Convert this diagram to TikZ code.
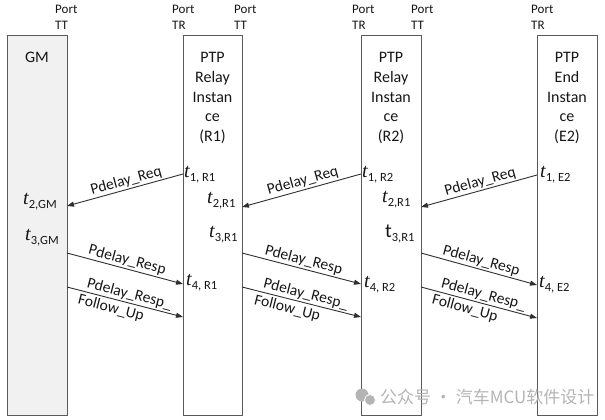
\documentclass[tikz,border=0pt]{standalone}
\usepackage{fontspec}
\setmainfont{Carlito}
\newfontfamily\tfont{Liberation Serif}
\newfontfamily\cjkfont{Noto Sans CJK SC}
\usetikzlibrary{arrows.meta}
\definecolor{boxline}{HTML}{5A5A5A}
\definecolor{gmfill}{HTML}{F1F1F1}
\definecolor{arrline}{HTML}{2E2E2E}
\definecolor{txt}{HTML}{161616}
\definecolor{wmark}{HTML}{B4B4B4}
\newcommand{\tlab}[1]{{\fontsize{20}{20}\selectfont\tfont\itshape t}\raisebox{-4.5pt}{\fontsize{12.5}{12.5}\selectfont #1}}
\newcommand{\tlabup}[1]{{\fontsize{20}{20}\selectfont t}\raisebox{-4.5pt}{\fontsize{12.5}{12.5}\selectfont #1}}
\begin{document}
\begin{tikzpicture}[x=1pt,y=-1pt,
  entity/.style={draw=boxline, line width=1pt, minimum height=379pt, inner sep=0pt, outer sep=0pt},
  boxtext/.style={anchor=north, align=center, inner sep=0pt, text=txt, font=\fontsize{16}{19.8}\selectfont},
  port/.style={anchor=north west, align=left, inner sep=0pt, text=txt, font=\fontsize{13}{16}\selectfont},
  tstamp/.style={anchor=base west, inner sep=0pt, text=txt},
  msg/.style={draw=arrline, line width=0.9pt, -{Triangle[length=7pt,width=5pt]}},
  mlabel/.style={sloped, inner sep=1.5pt, text=txt, font=\fontsize{15.5}{16}\selectfont}
]
\useasboundingbox (0,0) rectangle (605,420);

% entities
\node[entity, fill=gmfill, minimum width=60pt] (GM) at (37,225.5) {};
\node[entity, minimum width=59pt] (R1) at (212.5,225.5) {};
\node[entity, minimum width=60pt] (R2) at (391,225.5) {};
\node[entity, minimum width=60pt] (E2) at (567,225.5) {};

\node[boxtext] (GMt) at (37,52) {GM};
\node[boxtext] (R1t) at (212.5,52) {PTP\\Relay\\Instan\\ce\\(R1)};
\node[boxtext] (R2t) at (391,52) {PTP\\Relay\\Instan\\ce\\(R2)};
\node[boxtext] (E2t) at (567,52) {PTP\\End\\Instan\\ce\\(E2)};

% ports
\node[port] (p1) at (55,4.5) {Port\\TT};
\node[port] (p2) at (172,4.5) {Port\\TR};
\node[port] (p3) at (234,4.5) {Port\\TT};
\node[port] (p4) at (352,4.5) {Port\\TR};
\node[port] (p5) at (411,4.5) {Port\\TT};
\node[port] (p6) at (531,4.5) {Port\\TR};

% timestamps
\node[tstamp] (t1r1) at (184,177) {\tlab{1, R1}};
\node[tstamp] (t2gm) at (23,204) {\tlab{2,GM}};
\node[tstamp] (t3gm) at (25,240) {\tlab{3,GM}};
\node[tstamp] (t4r1) at (186,285) {\tlab{4, R1}};
\node[tstamp] (t2r1a) at (207,203) {\tlab{2,R1}};
\node[tstamp] (t3r1a) at (209,237) {\tlab{3,R1}};
\node[tstamp] (t1r2) at (362,177) {\tlab{1, R2}};
\node[tstamp] (t2r1b) at (382,202) {\tlab{2,R1}};
\node[tstamp] (t3r1b) at (385,237) {\tlabup{3,R1}};
\node[tstamp] (t4r2) at (364,287) {\tlab{4, R2}};
\node[tstamp] (t1e2) at (540,177) {\tlab{1, E2}};
\node[tstamp] (t4e2) at (539,287) {\tlab{4, E2}};

% message end points on the box edges
\coordinate (q1s) at (183,174); \coordinate (q1e) at (67,206);
\coordinate (q2s) at (361,174); \coordinate (q2e) at (242,207);
\coordinate (q3s) at (537,175); \coordinate (q3e) at (421,207);
\coordinate (r1s) at (67,253);  \coordinate (r1e) at (183,284);
\coordinate (f1s) at (67,287);  \coordinate (f1e) at (183,317);
\coordinate (r2s) at (242,253); \coordinate (r2e) at (361,284);
\coordinate (f2s) at (242,287); \coordinate (f2e) at (361,317);
\coordinate (r3s) at (421,253); \coordinate (r3e) at (537,285);
\coordinate (f3s) at (421,287); \coordinate (f3e) at (537,318);

\draw[msg] (q1s) -- node[mlabel, above, pos=0.47] {Pdelay\_Req} (q1e);
\draw[msg] (q2s) -- node[mlabel, above, pos=0.47] {Pdelay\_Req} (q2e);
\draw[msg] (q3s) -- node[mlabel, above, pos=0.47] {Pdelay\_Req} (q3e);

\draw[msg] (r1s) -- node[mlabel, above, pos=0.5] {Pdelay\_Resp} (r1e);
\draw[msg] (r2s) -- node[mlabel, above, pos=0.5] {Pdelay\_Resp} (r2e);
\draw[msg] (r3s) -- node[mlabel, above, pos=0.5] {Pdelay\_Resp} (r3e);

\draw[msg] (f1s) -- node[mlabel, above, pos=0.52] {Pdelay\_Resp\_} node[mlabel, below, pos=0.4, inner sep=2.5pt] {Follow\_Up} (f1e);
\draw[msg] (f2s) -- node[mlabel, above, pos=0.52] {Pdelay\_Resp\_} node[mlabel, below, pos=0.4, inner sep=2.5pt] {Follow\_Up} (f2e);
\draw[msg] (f3s) -- node[mlabel, above, pos=0.52] {Pdelay\_Resp\_} node[mlabel, below, pos=0.4, inner sep=2.5pt] {Follow\_Up} (f3e);

% watermark
\fill[wmark] (362,395) circle (6.5pt);
\fill[wmark] (370,400) circle (5.5pt);
\draw[white, line width=0.8pt] (370,400) circle (5.5pt);
\node[anchor=west, inner sep=0pt, text=wmark, font=\cjkfont\fontsize{17}{17}\selectfont] (wm) at (380,397) {公众号 · 汽车MCU软件设计};
\end{tikzpicture}
\end{document}
